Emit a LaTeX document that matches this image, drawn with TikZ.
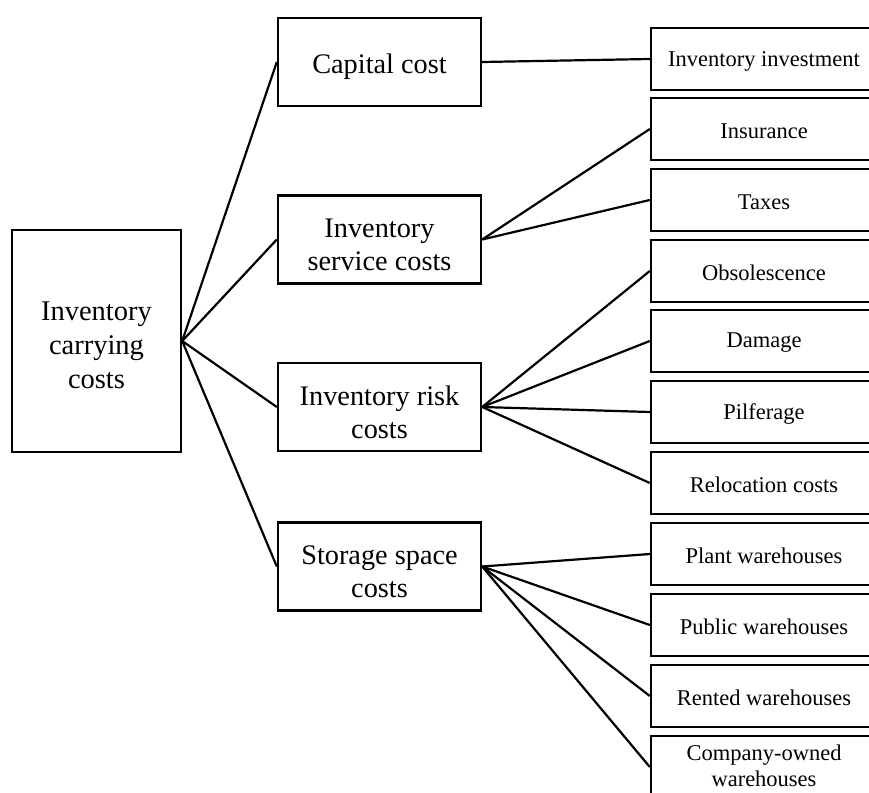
\documentclass[tikz,border=0pt]{standalone}
\usepackage{fontspec}
\setmainfont{Liberation Serif}
\begin{document}
\begin{tikzpicture}[x=1pt,y=-1pt,
  box/.style={draw,line width=2.4pt,inner sep=0pt},
  rootbox/.style={box,minimum width=169pt,minimum height=222pt},
  midbox/.style={box,minimum width=203pt,minimum height=88pt},
  leafbox/.style={box,minimum width=226pt,minimum height=62pt},
  roottext/.style={align=center,inner sep=0pt,yshift=-4pt,font=\fontsize{28.5}{34}\selectfont},
  midtext/.style={align=center,inner sep=0pt,yshift=-5pt,font=\fontsize{28.3}{33}\selectfont},
  leaftext/.style={align=center,inner sep=0pt,yshift=-2pt,font=\fontsize{22.5}{26}\selectfont},
  link/.style={line width=2.2pt}]
\useasboundingbox (0,0) rectangle (869,792);
\clip (0,0) rectangle (869,792);

% root
\node[rootbox,label={[roottext]center:{Inventory\\carrying\\costs}}] (root) at (96.5,341) {};

% cost categories
\node[midbox,label={[midtext]center:{Capital cost}}]               (capital) at (379.5,62)    {};
\node[midbox,label={[midtext]center:{Inventory\\service costs}}]   (service) at (379.5,239.5) {};
\node[midbox,label={[midtext]center:{Inventory risk\\costs}}]      (risk)    at (379.5,407)   {};
\node[midbox,label={[midtext]center:{Storage space\\costs}}]       (storage) at (379.5,566.5) {};

% cost items
\node[leafbox,label={[leaftext]center:{Inventory investment}}] (invest)  at (764,59)  {};
\node[leafbox,label={[leaftext]center:{Insurance}}]            (insur)   at (764,129) {};
\node[leafbox,label={[leaftext]center:{Taxes}}]                (taxes)   at (764,200) {};
\node[leafbox,label={[leaftext]center:{Obsolescence}}]         (obsol)   at (764,271) {};
\node[leafbox,label={[leaftext]center:{Damage}}]               (damage)  at (764,341) {};
\node[leafbox,label={[leaftext]center:{Pilferage}}]            (pilfer)  at (764,412) {};
\node[leafbox,label={[leaftext]center:{Relocation costs}}]     (reloc)   at (764,483) {};
\node[leafbox,label={[leaftext]center:{Plant warehouses}}]     (plant)   at (764,554) {};
\node[leafbox,label={[leaftext]center:{Public warehouses}}]    (public)  at (764,625) {};
\node[leafbox,label={[leaftext]center:{Rented warehouses}}]    (rented)  at (764,696) {};
\node[leafbox,label={[leaftext,yshift=3.5pt]center:{Company-owned\\warehouses}}] (company) at (764,767) {};

% connectors
\foreach \m in {capital,service,risk,storage}
  \draw[link] (root.east) -- (\m.west);
\draw[link] (capital.east) -- (invest.west);
\foreach \l in {insur,taxes}
  \draw[link] (service.east) -- (\l.west);
\foreach \l in {obsol,damage,pilfer,reloc}
  \draw[link] (risk.east) -- (\l.west);
\foreach \l in {plant,public,rented,company}
  \draw[link] (storage.east) -- (\l.west);
\end{tikzpicture}
\end{document}
